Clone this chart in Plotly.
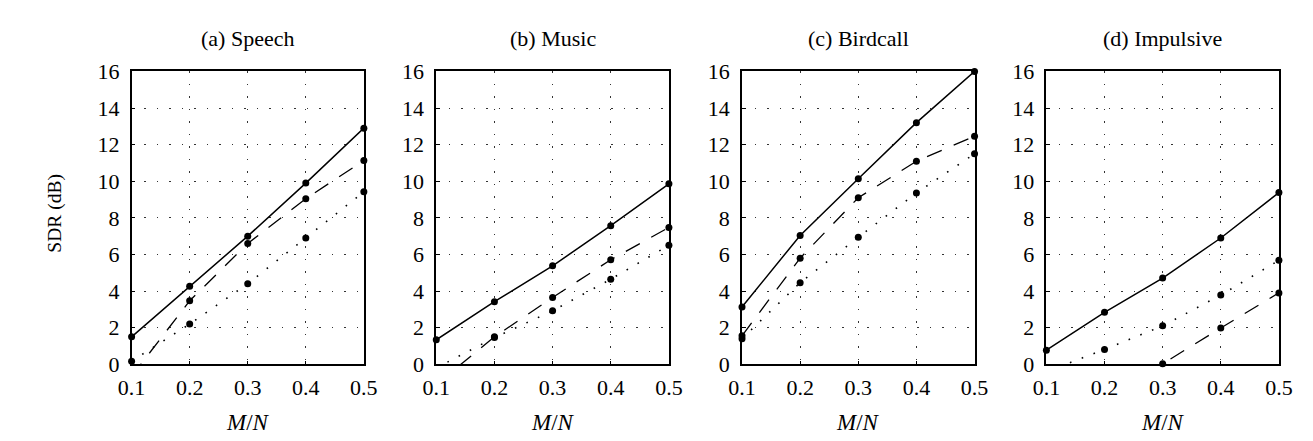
import plotly.graph_objects as go

# ---- data ----
mn = [0.1, 0.2, 0.3, 0.4, 0.5]
panel_titles = ["(a) Speech", "(b) Music", "(c) Birdcall", "(d) Impulsive"]

speech_solid = [1.5, 4.27, 7.0, 9.9, 12.9]
speech_dashed = [-0.65, 3.47, 6.6, 9.05, 11.13]
speech_dotted = [0.17, 2.2, 4.4, 6.9, 9.42]

music_solid = [1.34, 3.42, 5.38, 7.57, 9.86]
music_dashed = [-1.1, 1.5, 3.65, 5.71, 7.48]
music_dotted = [-0.2, 1.46, 2.92, 4.65, 6.5]

birdcall_solid = [3.13, 7.04, 10.14, 13.2, 16.0]
birdcall_dashed = [1.56, 5.8, 9.1, 11.09, 12.46]
birdcall_dotted = [1.4, 4.46, 6.94, 9.36, 11.5]

impulsive_solid = [0.77, 2.84, 4.71, 6.9, 9.38]
impulsive_dashed = [-3.8, -1.9, 0.03, 1.98, 3.9]
impulsive_dotted = [-0.4, 0.81, 2.1, 3.78, 5.68]

y_ticks = [0, 2, 4, 6, 8, 10, 12, 14, 16]
x_ticks = [0.1, 0.2, 0.3, 0.4, 0.5]
x_tick_labels = ["0.1", "0.2", "0.3", "0.4", "0.5"]
y_label = "SDR (dB)"
x_label = "<i>M</i>/<i>N</i>"

panels = [
    (speech_solid, speech_dashed, speech_dotted),
    (music_solid, music_dashed, music_dotted),
    (birdcall_solid, birdcall_dashed, birdcall_dotted),
    (impulsive_solid, impulsive_dashed, impulsive_dotted),
]

# ---- layout geometry (pixels) ----
W, H = 1313, 441
x_px = [(112.0, 349.3), (423.3, 661.0), (735.7, 973.3), (1046.7, 1284.3)]
y_top, y_bot = 54.5, 365
FONT = "Liberation Serif"

fig = go.Figure()
styles = [("solid", 1.5), ("16px,13px", 1.3), ("1.6px,11px", 1.6)]

for i, series in enumerate(panels):
    xa = "x" if i == 0 else f"x{i+1}"
    ya = "y" if i == 0 else f"y{i+1}"
    for vals, (dash, w) in zip(series, styles):
        fig.add_trace(go.Scatter(x=mn, y=vals, mode="lines", xaxis=xa, yaxis=ya,
                                 line=dict(color="black", width=w, dash=dash),
                                 showlegend=False, hoverinfo="skip"))
        vis = [(xv, yv) for xv, yv in zip(mn, vals) if yv >= 0]
        fig.add_trace(go.Scatter(x=[p[0] for p in vis], y=[p[1] for p in vis],
                                 mode="markers", xaxis=xa, yaxis=ya, cliponaxis=False,
                                 marker=dict(color="black", size=7),
                                 showlegend=False))

layout = dict(width=W, height=H, margin=dict(l=0, r=0, t=0, b=0),
              paper_bgcolor="white", plot_bgcolor="white",
              font=dict(family=FONT, color="black", size=22))
annotations = []
for i in range(4):
    xs = "xaxis" if i == 0 else f"xaxis{i+1}"
    ys = "yaxis" if i == 0 else f"yaxis{i+1}"
    x0, x1 = x_px[i]
    layout[xs] = dict(domain=[x0 / W, x1 / W], range=[0.1, 0.5],
                      anchor="y" if i == 0 else f"y{i+1}",
                      tickvals=x_ticks, ticktext=x_tick_labels,
                      showline=True, mirror=True, linecolor="black", linewidth=1.5,
                      ticks="inside", ticklen=4, tickcolor="black",
                      showgrid=True, gridcolor="#333", gridwidth=1, griddash="1.5px,11px",
                      zeroline=False, tickfont=dict(size=22, family=FONT),
                      ticklabelstandoff=3)
    layout[ys] = dict(domain=[1 - y_bot / H, 1 - y_top / H], range=[0, 16],
                      anchor="x" if i == 0 else f"x{i+1}",
                      tickvals=y_ticks,
                      showline=True, mirror=True, linecolor="black", linewidth=1.5,
                      ticks="inside", ticklen=4, tickcolor="black",
                      showgrid=True, gridcolor="#333", gridwidth=1, griddash="1.5px,11px",
                      zeroline=False, tickfont=dict(size=22, family=FONT),
                      ticklabelstandoff=6)
    cx = (x0 + x1) / 2 / W
    annotations.append(dict(text=panel_titles[i], x=cx, y=1 - 20 / H, xref="paper", yref="paper",
                            showarrow=False, font=dict(size=22, family=FONT),
                            xanchor="center", yanchor="middle"))
    annotations.append(dict(text=x_label, x=cx, y=1 - 427 / H, xref="paper", yref="paper",
                            showarrow=False, font=dict(size=23, family=FONT),
                            xanchor="center", yanchor="middle"))
annotations.append(dict(text=y_label, x=34 / W, y=1 - 205 / H, xref="paper", yref="paper",
                        showarrow=False, textangle=-90, font=dict(size=19.5, family=FONT),
                        xanchor="center", yanchor="middle"))
layout["annotations"] = annotations
fig.update_layout(**layout)
fig.write_html("out.html")
